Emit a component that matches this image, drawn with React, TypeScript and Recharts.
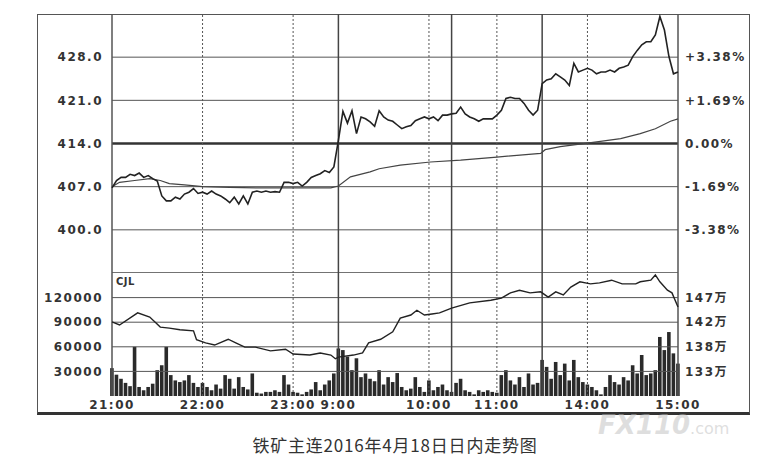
import React from "react";
import {
  ComposedChart,
  Line,
  Bar,
  XAxis,
  YAxis,
  ReferenceLine,
} from "recharts";

// minutes from 21:00, trading time only (night 150, 9:00-10:15, 10:30-11:30, 13:30-15:00)
const tickMinutes = [0, 60, 120, 150, 210, 255, 315, 375];
const tickLabels = ["21:00", "22:00", "23:00", "9:00", "10:00", "11:00", "14:00", "15:00"];
const dottedMinutes = [60, 120, 210, 255, 315];
const sessionBreaks = [150, 225, 285];

const priceLevels = [400, 407, 414, 421, 428];
const volLevels = [30000, 60000, 90000, 120000];
const oiTicks = [133, 137.667, 142.333, 147];

// price every 3 minutes
const prices = [
  406.8, 408.0, 408.5, 408.5, 409.0, 408.8, 409.2, 408.5, 408.8, 408.3,
  407.9, 405.5, 404.7, 404.7, 405.3, 405.0, 405.8, 406.1, 406.7, 405.9,
  406.1, 405.8, 406.3, 405.8, 405.5, 405.0, 404.4, 405.3, 404.2, 405.5,
  404.2, 406.1, 406.3, 406.1, 406.3, 406.1, 406.2, 406.1, 407.7, 407.7,
  407.5, 407.7, 407.1, 407.7, 408.5, 408.8, 409.1, 409.6, 409.3, 410.2,
  414.5, 419.2, 417.3, 419.3, 415.6, 418.3, 418.0, 417.5, 416.8, 419.3,
  418.3, 417.8, 417.6, 417.0, 416.4, 416.7, 416.9, 417.7, 418.0, 418.3,
  418.0, 418.3, 417.7, 418.6, 418.6, 418.8, 418.9, 419.9, 418.8, 418.3,
  418.0, 417.6, 418.0, 418.0, 418.0, 418.6, 419.4, 421.3, 421.5, 421.3,
  421.3, 420.5, 419.4, 418.6, 419.4, 423.7, 424.3, 424.5, 425.3, 424.8,
  424.3, 423.4, 427.0, 425.6, 425.9, 426.2, 425.9, 425.3, 425.6, 425.6,
  425.9, 425.6, 426.2, 426.4, 426.7, 428.1, 429.1, 430.0, 430.5, 430.5,
  431.6, 434.6, 432.4, 428.1, 425.3, 425.6,
];

// volume every 3 minutes
const volumes = [
  34000, 26000, 21000, 16000, 12000, 60000, 11000, 7000, 11000, 15000,
  31500, 37500, 60000, 25500, 19000, 17000, 19000, 25500, 16000, 11000,
  16000, 11000, 7000, 14000, 9000, 25500, 21000, 9000, 23000, 11000,
  8000, 27500, 4000, 3000, 5000, 5000, 7000, 5000, 25500, 14000,
  5000, 4000, 2000, 5000, 8000, 17000, 7000, 14000, 19000, 27500,
  58000, 56000, 48000, 31500, 46000, 23000, 27500, 21000, 18000, 31500,
  14000, 23000, 17000, 28000, 11000, 7000, 9000, 23000, 11000, 5000,
  19000, 7000, 11000, 14000, 7000, 5000, 16000, 21000, 7000, 5000,
  2000, 7000, 5000, 7000, 5000, 4000, 25500, 31500, 19000, 14000,
  23000, 11000, 27500, 14000, 16000, 44000, 35500, 21000, 41500, 25500,
  39500, 19000, 44000, 23000, 17000, 14000, 11000, 7000, 2000, 11000,
  25500, 17000, 14000, 23000, 19000, 37500, 27500, 50000, 25500, 27500,
  31500, 72000, 56000, 78000, 52000, 39500,
];

const avgMinutes = [0, 5, 15, 25, 32, 38, 48, 60, 78, 98, 118, 145, 150, 158, 171, 177, 191, 211, 231, 255, 284, 287, 297, 315, 337, 350, 360, 370, 375];
const avgPrices = [407.0, 407.7, 408.0, 408.3, 408.0, 407.5, 407.3, 407.0, 406.9, 406.8, 406.8, 406.8, 407.1, 408.6, 409.4, 409.9, 410.5, 411.0, 411.3, 411.8, 412.4, 413.0, 413.5, 414.05, 414.8, 415.6, 416.4, 417.6, 418.0];

// open interest, 万手
const oiMinutes = [0, 5, 17, 25, 32, 38, 45, 54, 56, 62, 68, 77, 82, 88, 95, 105, 115, 120, 131, 138, 145, 148, 150, 160, 166, 170, 178, 186, 191, 198, 202, 207, 212, 217, 225, 237, 251, 258, 264, 270, 277, 284, 289, 294, 299, 304, 310, 317, 323, 331, 338, 347, 350, 357, 360, 363, 368, 371, 375];
const oiValues = [142.4, 141.8, 144.1, 143.3, 141.4, 141.2, 140.9, 140.7, 139.0, 138.4, 138.0, 139.1, 138.4, 137.6, 137.6, 136.9, 137.2, 136.3, 136.1, 136.5, 136.1, 135.4, 135.7, 136.1, 136.5, 138.4, 139.1, 140.5, 143.1, 143.7, 144.6, 143.7, 143.9, 144.1, 145.0, 146.0, 146.5, 146.9, 147.9, 148.4, 147.9, 148.1, 147.1, 148.1, 147.5, 149.0, 150.0, 149.6, 149.8, 150.3, 149.6, 149.6, 150.0, 150.3, 151.3, 150.0, 148.4, 147.9, 145.2];

const priceData = prices.map((p, i) => ({ m: i * 3, price: p }));
const volData = volumes.map((v, i) => ({ m: i * 3, vol: v }));
const avgData = avgMinutes.map((m, i) => ({ m, avg: avgPrices[i] }));
const oiData = oiMinutes.map((m, i) => ({ m, oi: oiValues[i] }));

const TICK = {
  fill: "#333",
  fontSize: 12,
  fontWeight: 700,
  fontFamily: '"DejaVu Sans", "Noto Sans CJK SC", sans-serif',
  letterSpacing: 1.5,
};
const GRID = "#555";

const pct = (v: number) => {
  const d = ((v - 414) / 414) * 100;
  if (Math.abs(d) < 0.001) return "0.00%";
  return (d > 0 ? "+" : "-") + Math.abs(d).toFixed(2) + "%";
};

// fixed-width volume bar centred on its minute
const VolBar = (props: any) => {
  const { x, y, width, height } = props;
  if (!height || height <= 0) return null;
  const cx = x + width / 2;
  return <rect x={cx - 1.8} y={y} width={3.6} height={height} fill="#2a2a2a" />;
};

function verticals() {
  return [
    <ReferenceLine key="l" x={0} yAxisId="left" stroke={GRID} strokeWidth={1.5} />,
    <ReferenceLine key="r" x={375} yAxisId="left" stroke={GRID} strokeWidth={1.5} />,
    ...dottedMinutes.map((m) => (
      <ReferenceLine key={"d" + m} x={m} yAxisId="left" stroke={GRID} strokeDasharray="2 2" />
    )),
    ...sessionBreaks.map((m) => (
      <ReferenceLine key={"s" + m} x={m} yAxisId="left" stroke="#444" strokeWidth={1.5} />
    )),
  ];
}

export default function App() {
  return (
    <div
      style={{
        position: "absolute",
        left: 0,
        top: 0,
        width: 774,
        height: 469,
        background: "#fff",
        overflow: "hidden",
      }}
    >
      <div
        style={{
          position: "absolute",
          left: 37,
          top: 14,
          width: 711,
          height: 397,
          borderTop: "1px solid #555",
          borderLeft: "1px solid #555",
          borderRight: "1px solid #555",
          borderBottom: "3px solid #333",
        }}
      />
      <div
        style={{
          position: "absolute",
          left: 598,
          top: 412,
          fontFamily: '"DejaVu Sans", sans-serif',
          fontSize: 26,
          fontWeight: 700,
          fontStyle: "italic",
          color: "rgba(190,190,190,0.5)",
          whiteSpace: "nowrap",
          lineHeight: "26px",
        }}
      >
        FX110<span style={{ fontSize: 16, fontWeight: 400, fontStyle: "normal" }}>.com</span>
      </div>
      <div style={{ position: "absolute", left: 0, top: 0 }}>
        <ComposedChart
          width={774}
          height={273}
          data={priceData}
          margin={{ top: 14, right: 25, bottom: 0, left: 37 }}
        >
          <XAxis dataKey="m" type="number" domain={[0, 375]} hide />
          <YAxis
            yAxisId="left"
            domain={[393, 435]}
            ticks={priceLevels}
            allowDataOverflow
            width={75}
            axisLine={false}
            tickLine={false}
            tickSize={0}
            tickMargin={9}
            tick={TICK}
            tickFormatter={(v: number) => v.toFixed(1)}
          />
          <YAxis
            yAxisId="right"
            orientation="right"
            domain={[393, 435]}
            ticks={priceLevels}
            allowDataOverflow
            width={71}
            axisLine={false}
            tickLine={false}
            tickSize={0}
            tickMargin={7}
            tick={{ ...TICK, textAnchor: "start" }}
            tickFormatter={pct}
          />
          {priceLevels.map((p) => (
            <ReferenceLine
              key={p}
              y={p}
              yAxisId="left"
              stroke={p === 414 ? "#333" : GRID}
              strokeWidth={p === 414 ? 2.5 : 1}
            />
          ))}
          <ReferenceLine y={393} yAxisId="left" stroke="#444" strokeWidth={1.5} />
          {verticals()}
          <Line
            yAxisId="right"
            data={avgData}
            dataKey="avg"
            type="linear"
            stroke="#444"
            strokeWidth={1.2}
            dot={false}
            isAnimationActive={false}
          />
          <Line
            yAxisId="left"
            dataKey="price"
            type="linear"
            stroke="#222"
            strokeWidth={1.6}
            dot={false}
            isAnimationActive={false}
          />
        </ComposedChart>
      </div>
      <div style={{ position: "absolute", left: 0, top: 273 }}>
        <ComposedChart
          width={774}
          height={140}
          data={volData}
          margin={{ top: 0, right: 25, bottom: 0, left: 37 }}
        >
          <XAxis
            dataKey="m"
            type="number"
            domain={[0, 375]}
            ticks={tickMinutes}
            interval={0}
            height={17}
            axisLine={false}
            tickLine={false}
            tickSize={0}
            tickMargin={4}
            tick={TICK}
            tickFormatter={(v: number) => tickLabels[tickMinutes.indexOf(v)] ?? ""}
          />
          <YAxis
            yAxisId="left"
            domain={[0, 150000]}
            ticks={volLevels}
            allowDataOverflow
            width={75}
            axisLine={false}
            tickLine={false}
            tickSize={0}
            tickMargin={9}
            tick={TICK}
          />
          <YAxis
            yAxisId="oi"
            orientation="right"
            domain={[128.333, 151.667]}
            ticks={oiTicks}
            allowDataOverflow
            width={71}
            axisLine={false}
            tickLine={false}
            tickSize={0}
            tickMargin={7}
            tick={{ ...TICK, textAnchor: "start" }}
            tickFormatter={(v: number) => Math.round(v) + "万"}
          />
          {volLevels.map((v) => (
            <ReferenceLine key={v} y={v} yAxisId="left" stroke={GRID} />
          ))}
          {verticals()}
          <Bar
            yAxisId="left"
            dataKey="vol"
            fill="#2a2a2a"
            barSize={4}
            shape={VolBar}
            isAnimationActive={false}
          />
          <Line
            yAxisId="oi"
            data={oiData}
            dataKey="oi"
            type="linear"
            stroke="#222"
            strokeWidth={1.4}
            dot={false}
            isAnimationActive={false}
          />
        </ComposedChart>
      </div>
      <div
        style={{
          position: "absolute",
          left: 116,
          top: 276,
          fontFamily: '"DejaVu Sans", sans-serif',
          fontSize: 10,
          fontWeight: 700,
          color: "#333",
          letterSpacing: 0.5,
        }}
      >
        CJL
      </div>
      <div
        style={{
          position: "absolute",
          left: 0,
          width: 790,
          top: 432,
          textAlign: "center",
          fontFamily: '"Noto Sans CJK SC", sans-serif',
          fontSize: 17,
          letterSpacing: 0.8,
          color: "#333",
        }}
      >
        铁矿主连2016年4月18日日内走势图
      </div>
    </div>
  );
}
